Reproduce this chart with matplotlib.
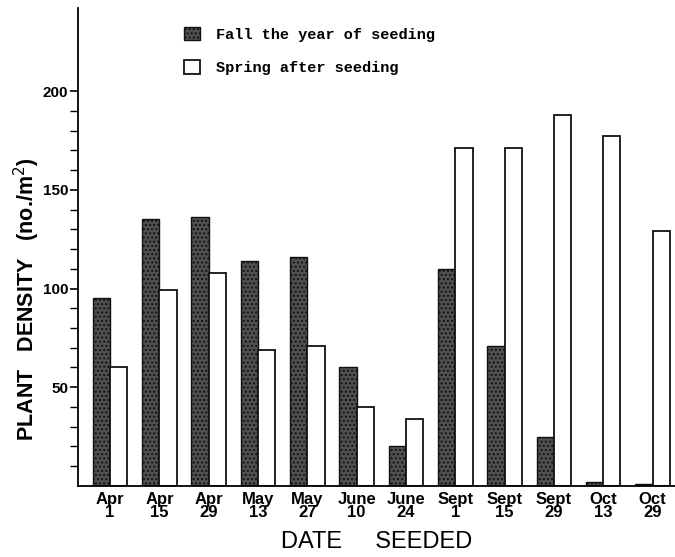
import numpy as np
import matplotlib
matplotlib.use('Agg')
import matplotlib.pyplot as plt
from matplotlib.ticker import FixedLocator

# data
dates = ['Apr\n1', 'Apr\n15', 'Apr\n29', 'May\n13', 'May\n27', 'June\n10',
         'June\n24', 'Sept\n1', 'Sept\n15', 'Sept\n29', 'Oct\n13', 'Oct\n29']
fall = [95, 135, 136, 114, 116, 60, 20, 110, 71, 25, 2, 1]
spring = [60, 99, 108, 69, 71, 40, 34, 171, 171, 188, 177, 129]
yticks = [50, 100, 150, 200]

sans = ['Liberation Sans', 'DejaVu Sans']
mono = ['Liberation Mono', 'DejaVu Sans Mono']

fig = plt.figure(figsize=(6.75, 5.57), dpi=100)
ax = fig.add_axes([0.1156, 0.1275, 0.884, 0.858])

x = np.arange(len(dates))
w = 0.35
ax.bar(x - w/2, fall, w, facecolor='#505050', edgecolor='#111111', linewidth=1.0,
       hatch='....', label='Fall the year of seeding')
ax.bar(x + w/2, spring, w, facecolor='white', edgecolor='#111111', linewidth=1.3,
       label='Spring after seeding')

ax.set_xlim(-0.65, 11.45)
ax.set_ylim(0, 242)
ax.spines['top'].set_visible(False)
ax.spines['right'].set_visible(False)
ax.spines['left'].set_linewidth(1.3)
ax.spines['bottom'].set_linewidth(1.3)

ax.set_xticks(x)
ax.set_xticklabels(dates, family=sans, fontsize=12, fontweight='bold', linespacing=0.85)
ax.tick_params(axis='x', length=0, pad=4)

ax.set_yticks(yticks)
ax.set_yticklabels([str(v) for v in yticks], family=sans, fontsize=11, fontweight='bold')
ax.yaxis.set_minor_locator(FixedLocator([v for v in range(10, 201, 10) if v % 50]))
ax.tick_params(axis='y', which='major', length=6, width=1.2, pad=1)
ax.tick_params(axis='y', which='minor', length=6, width=1.0)

ax.set_ylabel('PLANT   DENSITY   (no./m$^2$)', family=sans, fontsize=15.5, fontweight='bold')
ax.yaxis.set_label_coords(-0.06, 0.39)
ax.set_xlabel('DATE     SEEDED', family=sans, fontsize=17, labelpad=8)

leg = ax.legend(loc='upper left', bbox_to_anchor=(0.155, 0.99), frameon=False,
                prop={'family': mono, 'size': 11, 'weight': 'bold'}, handlelength=1.0,
                handleheight=1.0, labelspacing=1.2, handletextpad=1.1)

plt.savefig('out.png', dpi=100)
